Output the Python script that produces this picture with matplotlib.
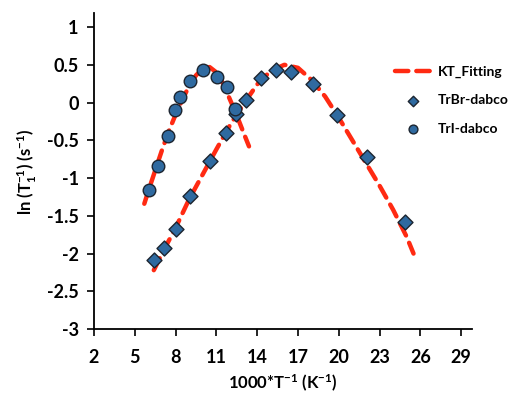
import matplotlib.pyplot as plt

plt.rcParams['font.family'] = ['Lato', 'DejaVu Sans']
plt.rcParams['font.weight'] = 'bold'
plt.rcParams['axes.labelweight'] = 'bold'
plt.rcParams['mathtext.fontset'] = 'custom'
plt.rcParams['mathtext.rm'] = 'Lato:bold'
plt.rcParams['mathtext.it'] = 'Lato:bold'
plt.rcParams['mathtext.default'] = 'rm'

# TrBr-dabco data
br_x = [6.44, 7.17, 8.03, 9.08, 10.55, 11.68, 12.42, 13.2, 14.28, 15.38, 16.52, 18.08, 19.84, 22.05, 24.87]
br_y = [-2.09, -1.93, -1.68, -1.24, -0.77, -0.40, -0.15, 0.03, 0.32, 0.43, 0.41, 0.24, -0.16, -0.72, -1.58]

# TrI-dabco data
i_x = [6.07, 6.68, 7.42, 7.96, 8.32, 9.06, 9.99, 11.07, 11.76, 12.37]
i_y = [-1.16, -0.84, -0.44, -0.10, 0.08, 0.29, 0.43, 0.34, 0.20, -0.08]

# KT fitting curves
fit_br_x = [6.4, 7, 8, 9, 10, 11, 12, 13, 14, 15, 16, 17, 18, 19, 20, 21, 22, 23, 24, 25, 25.5]
fit_br_y = [-2.22, -2.0, -1.66, -1.28, -0.95, -0.62, -0.30, -0.02, 0.24, 0.42, 0.50, 0.46, 0.30, 0.08, -0.20, -0.50, -0.80, -1.10, -1.42, -1.78, -2.0]
fit_i_x = [5.7, 6, 6.5, 7, 7.5, 8, 8.5, 9, 9.5, 10, 10.5, 11, 11.5, 12, 12.5, 13, 13.4]
fit_i_y = [-1.34, -1.17, -0.90, -0.63, -0.38, -0.16, 0.04, 0.22, 0.36, 0.45, 0.47, 0.40, 0.25, 0.04, -0.17, -0.40, -0.58]

x_ticks = [2, 5, 8, 11, 14, 17, 20, 23, 26, 29]
y_ticks = [-3, -2.5, -2, -1.5, -1, -0.5, 0, 0.5, 1]
y_labels = ['-3', '-2.5', '-2', '-1.5', '-1', '-0.5', '0', '0.5', '1']

red = '#FF2A12'
blue = '#2F6AA0'
edge = '#1C2530'

fig = plt.figure(figsize=(5.15, 3.96), dpi=100)
ax = fig.add_axes([0.1825, 0.169, 0.734, 0.797])

line, = ax.plot(fit_br_x, fit_br_y, color=red, lw=3.2, dashes=[3, 1.8],
                dash_capstyle='round', zorder=2, label='KT_Fitting')
ax.plot(fit_i_x, fit_i_y, color=red, lw=3.2, dashes=[3, 1.8],
        dash_capstyle='round', zorder=2)
br = ax.scatter(br_x, br_y, marker='D', s=58, color=blue, edgecolor=edge,
                linewidth=1, zorder=3, label='TrBr-dabco')
ti = ax.scatter(i_x, i_y, marker='o', s=82, color=blue, edgecolor=edge,
                linewidth=1, zorder=3, label='TrI-dabco')

ax.set_xlim(2, 29.8)
ax.set_ylim(-3, 1.18)
ax.set_xticks(x_ticks)
ax.set_yticks(y_ticks)
ax.set_yticklabels(y_labels)
ax.tick_params(direction='out', length=5, width=1.2, labelsize=13, pad=6)
ax.tick_params(axis='x', pad=9)
for s in ['top', 'right']:
    ax.spines[s].set_visible(False)
for s in ['left', 'bottom']:
    ax.spines[s].set_linewidth(1.3)

ax.set_xlabel('1000*T$^{-1}$ (K$^{-1}$)', fontsize=12, labelpad=5)
ax.set_ylabel('ln (T$_1^{-1}$) (s$^{-1}$)', fontsize=12, labelpad=6)

leg = fig.legend(handles=[line, br, ti], loc='upper left',
                 bbox_to_anchor=(0.753, 0.852), frameon=False, borderpad=0,
                 fontsize=10, handlelength=2.6, handletextpad=0.5,
                 labelspacing=1.2, markerscale=0.7)

fig.savefig('out.png', dpi=100)
